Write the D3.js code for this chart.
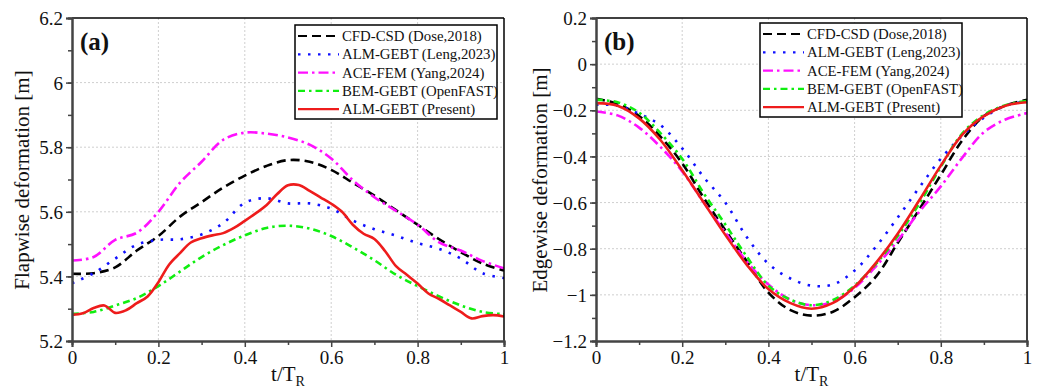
<!DOCTYPE html>
<html>
<head>
<meta charset="utf-8">
<script src="https://cdn.jsdelivr.net/npm/d3@7"></script>
<style>
  body { margin: 0; background: #fff; }
  svg text { font-family: "Liberation Serif", "Times New Roman", serif; fill: #111; }
</style>
</head>
<body>
<svg id="canvas" width="1043" height="389"></svg>
<script>
// time grids
const tGrid = [0, 0.05, 0.1, 0.15, 0.2, 0.25, 0.3, 0.35, 0.4, 0.45, 0.5, 0.55, 0.6, 0.65, 0.7, 0.75, 0.8, 0.85, 0.9, 0.95, 1]
const tFine = [0, 0.025, 0.05, 0.075, 0.1, 0.125, 0.15, 0.175, 0.2, 0.225, 0.25, 0.275, 0.3, 0.325, 0.35, 0.375, 0.4, 0.425, 0.45, 0.475, 0.5,
               0.525, 0.55, 0.575, 0.6, 0.625, 0.65, 0.675, 0.7, 0.725, 0.75, 0.775, 0.8, 0.825, 0.85, 0.875, 0.9, 0.925, 0.95, 0.975, 1]

// (a) flapwise deformation [m]
const flapCFD = [5.408, 5.41, 5.428, 5.48, 5.525, 5.585, 5.63, 5.675, 5.712, 5.742, 5.76, 5.755, 5.73, 5.69, 5.65, 5.605, 5.56, 5.515, 5.475, 5.44, 5.418]
const flapLeng = [5.379, 5.41, 5.455, 5.498, 5.513, 5.515, 5.53, 5.565, 5.628, 5.642, 5.626, 5.626, 5.61, 5.573, 5.546, 5.526, 5.503, 5.485, 5.455, 5.41, 5.395]
const flapYang = [5.449, 5.46, 5.513, 5.535, 5.6, 5.69, 5.755, 5.823, 5.845, 5.842, 5.83, 5.808, 5.765, 5.698, 5.645, 5.603, 5.56, 5.505, 5.48, 5.448, 5.425]
const flapFAST = [5.284, 5.29, 5.31, 5.333, 5.37, 5.415, 5.46, 5.497, 5.527, 5.55, 5.557, 5.548, 5.525, 5.49, 5.45, 5.405, 5.37, 5.338, 5.31, 5.29, 5.283]
const flapPresent = [5.281, 5.286, 5.302, 5.31, 5.287, 5.295, 5.317, 5.338, 5.382, 5.437, 5.472, 5.505, 5.518, 5.527, 5.534, 5.55, 5.572, 5.595, 5.62, 5.655, 5.682,
                     5.683, 5.665, 5.645, 5.625, 5.6, 5.56, 5.532, 5.516, 5.478, 5.432, 5.405, 5.378, 5.347, 5.33, 5.31, 5.29, 5.27, 5.277, 5.28, 5.276]

// (b) edgewise deformation [m]
const edgeCFD = [-0.15, -0.172, -0.225, -0.315, -0.43, -0.58, -0.72, -0.855, -0.99, -1.065, -1.09, -1.073, -1.01, -0.92, -0.775, -0.63, -0.48, -0.33, -0.225, -0.18, -0.154]
const edgeLeng = [-0.176, -0.18, -0.215, -0.265, -0.365, -0.49, -0.6, -0.75, -0.865, -0.928, -0.96, -0.955, -0.895, -0.79, -0.665, -0.535, -0.41, -0.31, -0.232, -0.18, -0.162]
const edgeYang = [-0.205, -0.222, -0.275, -0.36, -0.465, -0.6, -0.73, -0.856, -0.955, -1.02, -1.045, -1.03, -0.97, -0.875, -0.765, -0.64, -0.53, -0.405, -0.295, -0.24, -0.212]
const edgeFAST = [-0.154, -0.165, -0.21, -0.3, -0.41, -0.56, -0.695, -0.835, -0.96, -1.02, -1.045, -1.022, -0.96, -0.865, -0.745, -0.605, -0.445, -0.3, -0.22, -0.178, -0.159]
const edgePresent = [-0.169, -0.18, -0.235, -0.33, -0.46, -0.6, -0.74, -0.87, -0.975, -1.035, -1.06, -1.035, -0.965, -0.86, -0.735, -0.59, -0.44, -0.305, -0.225, -0.18, -0.165]

const legendNames = ['CFD-CSD (Dose,2018)', 'ALM-GEBT (Leng,2023)', 'ACE-FEM (Yang,2024)', 'BEM-GEBT (OpenFAST)', 'ALM-GEBT (Present)']
const xTicks = [0, 0.2, 0.4, 0.6, 0.8, 1]
const flapTicks = [5.2, 5.4, 5.6, 5.8, 6, 6.2]
const edgeTicks = [0.2, 0, -0.2, -0.4, -0.6, -0.8, -1, -1.2]

const styles = [
  { color: '#000000', dash: '9,5' },
  { color: '#1010ff', dash: '2.5,7.5' },
  { color: '#ff10ff', dash: '10,4,2.5,4' },
  { color: '#10ee10', dash: '7,4,2.5,4' },
  { color: '#ee1c1c', dash: null }
]

let canvas = d3.select('#canvas')

let fmt = (d) => {
  let s = String(Math.round(d * 10) / 10)
  return s.replace('-', '\u2212')
}

let drawPanel = (p) => {
  let xScale = d3.scaleLinear().domain([0, 1]).range([p.left, p.right])
  let yScale = d3.scaleLinear().domain(p.yDomain).range([341, 18])
  let g = canvas.append('g')

  // grid
  g.selectAll('.gx').data(xTicks.slice(1, -1)).enter().append('line')
    .attr('x1', d => xScale(d)).attr('x2', d => xScale(d))
    .attr('y1', 18).attr('y2', 341)
    .attr('stroke', '#cfcfcf').attr('stroke-width', 1).attr('stroke-dasharray', '2,2')
  g.selectAll('.gy').data(p.yTicks.filter(d => d !== p.yDomain[0] && d !== p.yDomain[1])).enter().append('line')
    .attr('x1', p.left).attr('x2', p.right)
    .attr('y1', d => yScale(d)).attr('y2', d => yScale(d))
    .attr('stroke', '#cfcfcf').attr('stroke-width', 1).attr('stroke-dasharray', '2,2')

  // curves
  let clipId = 'clip' + p.name
  g.append('clipPath').attr('id', clipId).append('rect')
    .attr('x', p.left).attr('y', 18).attr('width', p.right - p.left).attr('height', 323)
  let line = d3.line().x(d => xScale(d[0])).y(d => yScale(d[1])).curve(d3.curveCatmullRom.alpha(0.5))
  p.series.forEach((s, i) => {
    let pts = s.t.map((t, k) => [t, s.v[k]])
    g.append('path')
      .attr('d', line(pts))
      .attr('fill', 'none')
      .attr('stroke', styles[i].color)
      .attr('stroke-width', 2.6)
      .attr('stroke-dasharray', styles[i].dash)
      .attr('clip-path', 'url(#' + clipId + ')')
  })

  // frame
  g.append('line').attr('x1', p.left).attr('x2', p.right).attr('y1', 18).attr('y2', 18)
    .attr('stroke', '#000').attr('stroke-width', 1.5)
  g.append('line').attr('x1', p.right).attr('x2', p.right).attr('y1', 18).attr('y2', 341)
    .attr('stroke', '#000').attr('stroke-width', 1.5)

  // axes
  let yMinor = d3.range(0, p.yTicks.length * 2 - 1).map(k => p.yDomain[0] + k * 0.1)
  let xAxis = d3.axisBottom(xScale).tickValues(xTicks).tickFormat(fmt).tickSize(6).tickPadding(4)
  let xMinor = d3.axisBottom(xScale).tickValues([0.1, 0.3, 0.5, 0.7, 0.9]).tickFormat('').tickSize(4)
  let yAxis = d3.axisLeft(yScale).tickValues(p.yTicks).tickFormat(fmt).tickSize(6).tickPadding(3)
  let yAxisMinor = d3.axisLeft(yScale).tickValues(yMinor).tickFormat('').tickSize(4)

  let ax = g.append('g').attr('transform', 'translate(0,341)').call(xAxis)
  g.append('g').attr('transform', 'translate(0,341)').call(xMinor)
  let ay = g.append('g').attr('transform', 'translate(' + p.left + ',0)').call(yAxis)
  g.append('g').attr('transform', 'translate(' + p.left + ',0)').call(yAxisMinor)
  g.selectAll('g').attr('font-family', null)
  g.selectAll('.domain').attr('stroke', '#444').attr('stroke-width', 2)
  g.selectAll('.tick line').attr('stroke', '#444').attr('stroke-width', 1.5)
  ax.selectAll('text').attr('font-size', 19)
  ay.selectAll('text').attr('font-size', 19).attr('dy', '0.35em')

  // axis titles
  g.append('text')
    .attr('transform', 'translate(' + p.titleX + ',180) rotate(-90)')
    .attr('text-anchor', 'middle').attr('font-size', 21)
    .text(p.yTitle)
  let xt = g.append('text').attr('x', (p.left + p.right) / 2).attr('y', 381)
    .attr('text-anchor', 'middle').attr('font-size', 21)
  xt.append('tspan').text('t/T')
  xt.append('tspan').attr('font-size', 14).attr('dy', 5).text('R')

  // panel label
  g.append('text').attr('x', p.left + 8).attr('y', 50)
    .attr('font-size', 25).attr('font-weight', 'bold').text(p.label)

  // legend
  let lg = g.append('g').attr('transform', 'translate(' + p.legX + ',' + p.legY + ')')
  lg.append('rect').attr('x', 0).attr('y', 0).attr('width', 202).attr('height', 94)
    .attr('fill', '#fff').attr('stroke', '#000').attr('stroke-width', 1.5)
  legendNames.forEach((name, i) => {
    let y = 11 + i * 18.3
    lg.append('line').attr('x1', 3).attr('x2', 44).attr('y1', y).attr('y2', y)
      .attr('stroke', styles[i].color).attr('stroke-width', 2.2).attr('stroke-dasharray', styles[i].dash)
    lg.append('text').attr('x', 47).attr('y', y).attr('dy', '0.35em')
      .attr('font-size', 14.8).text(name)
  })
}

drawPanel({
  name: 'a', left: 72, right: 504, yDomain: [5.2, 6.2], yTicks: flapTicks,
  yTitle: 'Flapwise deformation [m]', titleX: 29, label: '(a)', legX: 295, legY: 25,
  series: [
    { t: tGrid, v: flapCFD }, { t: tGrid, v: flapLeng }, { t: tGrid, v: flapYang },
    { t: tGrid, v: flapFAST }, { t: tFine, v: flapPresent }
  ]
})

drawPanel({
  name: 'b', left: 596, right: 1027, yDomain: [-1.2, 0.2], yTicks: edgeTicks,
  yTitle: 'Edgewise deformation [m]', titleX: 547, label: '(b)', legX: 760, legY: 23,
  series: [
    { t: tGrid, v: edgeCFD }, { t: tGrid, v: edgeLeng }, { t: tGrid, v: edgeYang },
    { t: tGrid, v: edgeFAST }, { t: tGrid, v: edgePresent }
  ]
})
</script>
</body>
</html>
